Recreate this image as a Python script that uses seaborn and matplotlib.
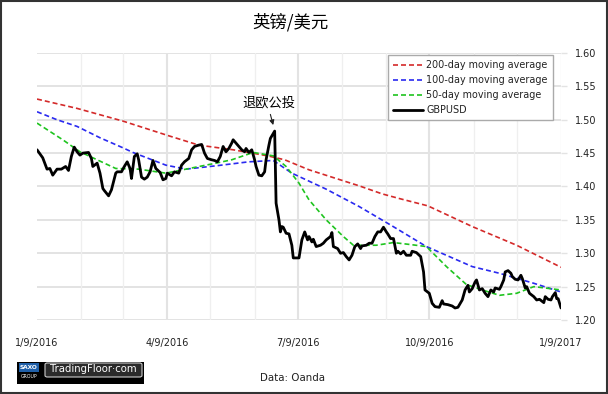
import matplotlib
matplotlib.use("Agg")
import matplotlib.pyplot as plt
import matplotlib.dates as mdates
from matplotlib.patches import Rectangle, FancyBboxPatch
import seaborn as sns
import pandas as pd

# ---------------- data ----------------
title = "英镑/美元"
annotation_text = "退欧公投"
source_text = "Data: Oanda"

gbp_dates = [
    "2016-01-09", "2016-01-13", "2016-01-16", "2016-01-18", "2016-01-20", "2016-01-23", "2016-01-26",
    "2016-01-29", "2016-01-31", "2016-02-02", "2016-02-04", "2016-02-06", "2016-02-08", "2016-02-10",
    "2016-02-14", "2016-02-16", "2016-02-17", "2016-02-20", "2016-02-22", "2016-02-24", "2016-02-25",
    "2016-02-28", "2016-03-01", "2016-03-04", "2016-03-05", "2016-03-08", "2016-03-10", "2016-03-12",
    "2016-03-14", "2016-03-15", "2016-03-17", "2016-03-19", "2016-03-20", "2016-03-22", "2016-03-24",
    "2016-03-26", "2016-03-28", "2016-03-30", "2016-04-01", "2016-04-02", "2016-04-04", "2016-04-06",
    "2016-04-08", "2016-04-09", "2016-04-12", "2016-04-14", "2016-04-17", "2016-04-19", "2016-04-21",
    "2016-04-24", "2016-04-26", "2016-04-28", "2016-05-01", "2016-05-03", "2016-05-05", "2016-05-07",
    "2016-05-10", "2016-05-12", "2016-05-14", "2016-05-16", "2016-05-18", "2016-05-20", "2016-05-22",
    "2016-05-24", "2016-05-25", "2016-05-27", "2016-05-29", "2016-05-31", "2016-06-02", "2016-06-03",
    "2016-06-05", "2016-06-07", "2016-06-09", "2016-06-10", "2016-06-12", "2016-06-14", "2016-06-16",
    "2016-06-17", "2016-06-19", "2016-06-20", "2016-06-23", "2016-06-24", "2016-06-26", "2016-06-27",
    "2016-06-28", "2016-06-29", "2016-07-01", "2016-07-03", "2016-07-05", "2016-07-06", "2016-07-10",
    "2016-07-12", "2016-07-14", "2016-07-16", "2016-07-17", "2016-07-19", "2016-07-20", "2016-07-22",
    "2016-07-25", "2016-07-27", "2016-07-29", "2016-08-01", "2016-08-02", "2016-08-03", "2016-08-06",
    "2016-08-08", "2016-08-10", "2016-08-12", "2016-08-14", "2016-08-16", "2016-08-18", "2016-08-20",
    "2016-08-22", "2016-08-23", "2016-08-26", "2016-08-28", "2016-08-30", "2016-09-01", "2016-09-03",
    "2016-09-05", "2016-09-07", "2016-09-09", "2016-09-10", "2016-09-12", "2016-09-14", "2016-09-16",
    "2016-09-17", "2016-09-19", "2016-09-21", "2016-09-23", "2016-09-26", "2016-09-27", "2016-09-30",
    "2016-10-03", "2016-10-05", "2016-10-06", "2016-10-09", "2016-10-11", "2016-10-13", "2016-10-16",
    "2016-10-18", "2016-10-19", "2016-10-22", "2016-10-25", "2016-10-27", "2016-10-29", "2016-11-01",
    "2016-11-03", "2016-11-05", "2016-11-06", "2016-11-08", "2016-11-10", "2016-11-11", "2016-11-13",
    "2016-11-15", "2016-11-17", "2016-11-19", "2016-11-21", "2016-11-23", "2016-11-24", "2016-11-27",
    "2016-11-28", "2016-11-30", "2016-12-01", "2016-12-03", "2016-12-05", "2016-12-06", "2016-12-08",
    "2016-12-10", "2016-12-12", "2016-12-13", "2016-12-15", "2016-12-16", "2016-12-18", "2016-12-21",
    "2016-12-23", "2016-12-25", "2016-12-28", "2016-12-29", "2016-12-31", "2017-01-02", "2017-01-03",
    "2017-01-05", "2017-01-06", "2017-01-07", "2017-01-09",
]
gbp_values = [
    1.455, 1.443, 1.426, 1.427, 1.417, 1.426, 1.426,
    1.430, 1.424, 1.445, 1.459, 1.452, 1.447, 1.450,
    1.451, 1.442, 1.430, 1.435, 1.420, 1.397, 1.394,
    1.386, 1.395, 1.420, 1.422, 1.422, 1.430, 1.437,
    1.427, 1.412, 1.445, 1.449, 1.440, 1.414, 1.411,
    1.414, 1.422, 1.439, 1.427, 1.425, 1.421, 1.410,
    1.412, 1.420, 1.416, 1.422, 1.420, 1.432, 1.437,
    1.442, 1.455, 1.460, 1.462, 1.463, 1.450, 1.442,
    1.440, 1.439, 1.437, 1.445, 1.460, 1.452, 1.457,
    1.465, 1.470, 1.465, 1.460, 1.455, 1.452, 1.457,
    1.451, 1.455, 1.440, 1.430, 1.417, 1.416, 1.422,
    1.440, 1.462, 1.472, 1.483, 1.375, 1.350, 1.332,
    1.340, 1.339, 1.330, 1.329, 1.312, 1.293, 1.293,
    1.320, 1.332, 1.320, 1.325, 1.317, 1.321, 1.310,
    1.312, 1.315, 1.320, 1.325, 1.331, 1.310, 1.307,
    1.300, 1.301, 1.295, 1.290, 1.297, 1.310, 1.314,
    1.307, 1.311, 1.312, 1.315, 1.315, 1.325, 1.332,
    1.332, 1.339, 1.332, 1.329, 1.322, 1.322, 1.300,
    1.303, 1.299, 1.303, 1.297, 1.297, 1.303, 1.301,
    1.295, 1.272, 1.245, 1.240, 1.225, 1.220, 1.219,
    1.229, 1.224, 1.223, 1.221, 1.218, 1.219, 1.230,
    1.245, 1.252, 1.242, 1.247, 1.257, 1.260, 1.245,
    1.247, 1.240, 1.235, 1.245, 1.242, 1.248, 1.246,
    1.250, 1.260, 1.272, 1.274, 1.270, 1.265, 1.261,
    1.260, 1.267, 1.262, 1.248, 1.250, 1.240, 1.235,
    1.230, 1.231, 1.226, 1.235, 1.231, 1.230, 1.235,
    1.241, 1.232, 1.232, 1.218,
]

ma200_dates = ["2016-01-09", "2016-02-06", "2016-03-09", "2016-04-10", "2016-05-01", "2016-05-25",
               "2016-06-18", "2016-06-30", "2016-07-17", "2016-08-02", "2016-08-21", "2016-09-06",
               "2016-09-18", "2016-10-08", "2016-11-08", "2016-12-09", "2017-01-09"]
ma200_values = [1.531, 1.517, 1.498, 1.476, 1.462, 1.455,
                1.446, 1.440, 1.425, 1.414, 1.401, 1.389,
                1.382, 1.371, 1.340, 1.312, 1.279]

ma100_dates = ["2016-01-09", "2016-01-23", "2016-02-06", "2016-02-22", "2016-03-09", "2016-03-16",
               "2016-04-08", "2016-04-22", "2016-05-13", "2016-06-05", "2016-06-22", "2016-07-05",
               "2016-07-29", "2016-08-21", "2016-09-13", "2016-10-07", "2016-11-08", "2016-11-27",
               "2016-12-21", "2017-01-09"]
ma100_values = [1.512, 1.500, 1.490, 1.473, 1.458, 1.451,
                1.432, 1.426, 1.431, 1.437, 1.439, 1.420,
                1.396, 1.370, 1.341, 1.310, 1.280, 1.270,
                1.255, 1.242]

ma50_dates = ["2016-01-09", "2016-01-27", "2016-02-08", "2016-02-20", "2016-03-04", "2016-03-20",
              "2016-04-08", "2016-04-22", "2016-05-13", "2016-05-24", "2016-06-08", "2016-06-22",
              "2016-07-01", "2016-07-10", "2016-07-17", "2016-07-29", "2016-08-10", "2016-08-17",
              "2016-09-02", "2016-09-14", "2016-09-26", "2016-10-07", "2016-10-21", "2016-11-04",
              "2016-11-18", "2016-11-27", "2016-12-09", "2016-12-21", "2017-01-09"]
ma50_values = [1.495, 1.470, 1.452, 1.440, 1.427, 1.426,
               1.420, 1.426, 1.435, 1.440, 1.451, 1.446,
               1.430, 1.405, 1.380, 1.350, 1.325, 1.312,
               1.312, 1.316, 1.313, 1.310, 1.280, 1.253,
               1.243, 1.237, 1.240, 1.250, 1.245]

x_tick_dates = ["2016-01-09", "2016-04-09", "2016-07-09", "2016-10-09", "2017-01-09"]
x_tick_labels = ["1/9/2016", "4/9/2016", "7/9/2016", "10/9/2016", "1/9/2017"]
month_grid_dates = ["2016-02-09", "2016-03-09", "2016-05-09", "2016-06-09", "2016-08-09",
                    "2016-09-09", "2016-11-09", "2016-12-09", "2017-01-09"]
y_ticks = [1.20, 1.25, 1.30, 1.35, 1.40, 1.45, 1.50, 1.55, 1.60]

series_labels = ["200-day moving average", "100-day moving average", "50-day moving average", "GBPUSD"]
series_colors = ["#d42a2a", "#2a2af0", "#1fc41f", "#000000"]

# ---------------- build ----------------
gbp = pd.DataFrame({"date": pd.to_datetime(gbp_dates), "value": gbp_values})
ma200 = pd.DataFrame({"date": pd.to_datetime(ma200_dates), "value": ma200_values})
ma100 = pd.DataFrame({"date": pd.to_datetime(ma100_dates), "value": ma100_values})
ma50 = pd.DataFrame({"date": pd.to_datetime(ma50_dates), "value": ma50_values})

sns.set_theme(style="white")
plt.rcParams["font.family"] = ["DejaVu Sans", "Noto Sans CJK SC"]

fig = plt.figure(figsize=(6.08, 3.94), dpi=100)
ax = fig.add_axes([37 / 608, 1 - 320 / 394, (561 - 37) / 608, (320 - 53) / 394])

# grid lines
grid_c = "#e3e3e3"
for yv in y_ticks:
    ax.axhline(yv, color=grid_c, lw=1.4, zorder=0)
for d in month_grid_dates:
    ax.axvline(pd.Timestamp(d), color="#efefef", lw=0.9, zorder=0)
for d in x_tick_dates[1:4]:
    ax.axvline(pd.Timestamp(d), color=grid_c, lw=1.5, zorder=0)

dash = (3.0, 1.8)
for df, lab, col in zip([ma200, ma100, ma50], series_labels[:3], series_colors[:3]):
    sns.lineplot(data=df, x="date", y="value", ax=ax, color=col, lw=1.2,
                 label=lab, dashes=False, zorder=3)
for line in ax.get_lines()[-3:]:
    line.set_dashes(dash)
sns.lineplot(data=gbp, x="date", y="value", ax=ax, color=series_colors[3], lw=2.0,
             label=series_labels[3], zorder=4)

ax.set_xlim(pd.Timestamp("2016-01-09"), pd.Timestamp("2017-01-09"))
ax.set_ylim(1.20, 1.60)
ax.set_xlabel("")
ax.set_ylabel("")
for s in ax.spines.values():
    s.set_visible(False)

ax.set_xticks(pd.to_datetime(x_tick_dates))
ax.set_xticklabels(x_tick_labels)
ax.yaxis.tick_right()
ax.set_yticks(y_ticks)
ax.set_yticklabels([f"{v:.2f}" for v in y_ticks])
ax.tick_params(axis="y", which="both", right=True, length=4, width=1, color=grid_c,
               labelsize=7, labelcolor="#222222", pad=6)
ax.tick_params(axis="x", which="both", bottom=False, labelsize=7, labelcolor="#222222", pad=7)

# annotation
ax.text(pd.Timestamp("2016-06-19"), 1.525, annotation_text, ha="center", va="center",
        fontsize=9.5, family=["Noto Sans CJK SC", "DejaVu Sans"], color="black", zorder=6)
ax.annotate("", xy=(pd.Timestamp("2016-06-22"), 1.492), xytext=(pd.Timestamp("2016-06-20"), 1.508),
            arrowprops=dict(arrowstyle="-|>", color="#222222", lw=0.8, mutation_scale=7,
                            shrinkA=0, shrinkB=0), zorder=6)

# legend
leg = ax.legend(loc="upper right", bbox_to_anchor=(553 / 608, 1 - 55 / 394),
                bbox_transform=fig.transFigure, borderaxespad=0, fontsize=6.9,
                handlelength=3.2, handletextpad=0.3, labelspacing=0.52, borderpad=0.55,
                fancybox=False, frameon=True, framealpha=1)
leg.get_frame().set_edgecolor("#aaaaaa")
leg.get_frame().set_linewidth(1.0)
for h in leg.get_lines()[:3]:
    h.set_dashes(dash)
for t in leg.get_texts():
    t.set_color("#222222")

# title & source
fig.text(290 / 608, 1 - 22 / 394, title, ha="center", va="center", fontsize=12.5,
         family=["Noto Sans CJK SC", "DejaVu Sans"], color="black")
fig.text(293 / 608, 1 - 378 / 394, source_text, ha="center", va="center", fontsize=7.4,
         color="#222222")

# logo
def fx(px):
    return px / 608

def fy(py):
    return 1 - py / 394

fig.patches.append(Rectangle((fx(17), fy(384)), fx(127), 22 / 394, transform=fig.transFigure,
                             facecolor="black", edgecolor="none", zorder=1))
fig.patches.append(Rectangle((fx(19), fy(372)), fx(20), 9 / 394, transform=fig.transFigure,
                             facecolor="#1f5fa8", edgecolor="none", zorder=2))
fig.text(fx(29), fy(367.5), "SAXO", ha="center", va="center", fontsize=4.2, color="white",
         fontweight="bold", zorder=3)
fig.text(fx(29), fy(377), "GROUP", ha="center", va="center", fontsize=3.3, color="white", zorder=3)
fig.patches.append(FancyBboxPatch((fx(45), fy(377)), fx(97), 14 / 394, transform=fig.transFigure,
                                  boxstyle="round,pad=0,rounding_size=0.004",
                                  facecolor="#2b2b2b", edgecolor="#cccccc", lw=0.8, zorder=2))
fig.text(fx(93.5), fy(369.5), "TradingFloor·com", ha="center", va="center", fontsize=7.3,
         color="white", zorder=3)

# figure border
fig.patches.append(Rectangle((0.001, 0.002), 0.997, 0.995, transform=fig.transFigure,
                             facecolor="none", edgecolor="#333333", lw=1.5, zorder=10))

fig.savefig("out.png", dpi=100)
